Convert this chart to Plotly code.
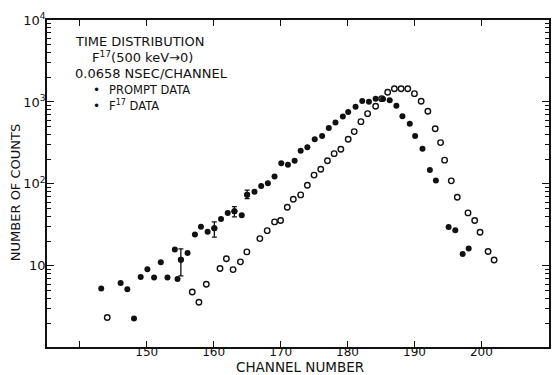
import plotly.graph_objects as go

# ---- data ----
prompt_channel = [143.2, 146.1, 147.1, 148.1, 149.1, 150.1, 151.1, 152.1, 153.1, 154.2,
                  154.6, 155.1, 156.1, 157.2, 158.1, 159.1, 160.1, 161.1, 162.1, 163.1,
                  164.2, 165.0, 166.1, 167.1, 168.1, 169.1, 170.1, 171.1, 172.1, 173.0,
                  174.0, 175.1, 176.2, 177.2, 178.2, 179.3, 180.1, 181.2, 182.2, 183.2,
                  184.2, 185.3, 186.3, 187.3, 188.2, 189.3, 190.1, 191.2, 192.3, 193.2,
                  195.1, 196.1, 197.2, 198.1]
prompt_counts = [5.3, 6.2, 5.2, 2.28, 7.3, 9.1, 7.2, 11.1, 7.2, 15.8,
                 6.9, 11.9, 14.4, 24.1, 30.1, 26, 28.8, 37.4, 44.3, 46.5,
                 41.5, 74, 80, 94, 102, 123, 179, 171, 192, 253,
                 280, 351, 385, 480, 560, 665, 755, 877, 1028, 1009,
                 1098, 1088, 1048, 902, 669, 543, 385, 269, 148, 110,
                 29.9, 27.2, 14.0, 16.3]

err_channel = [155.1, 160.1, 163.1, 165.0]
err_counts = [11.9, 28.8, 46.5, 74]
err_upper = [16.1, 34.4, 52.9, 84]
err_lower = [7.55, 22.4, 39.6, 66]

f17_channel = [144.1, 156.8, 157.8, 158.9, 160.95, 161.9, 162.9, 164.0, 164.96, 166.9,
               168.0, 169.1, 170.0, 171.0, 171.9, 173.0, 174.0, 175.0, 176.0, 177.0,
               178.0, 179.0, 180.1, 181.0, 182.0, 183.0, 184.2, 185.1, 186.0, 187.0,
               188.0, 189.0, 190.0, 191.0, 192.0, 193.1, 193.9, 194.5, 195.5, 196.4,
               198.0, 199.0, 199.8, 201.0, 201.9]
f17_counts = [2.34, 4.8, 3.6, 5.97, 9.3, 12.2, 9.0, 11.2, 14.8, 21.5,
              26.9, 34.4, 35.7, 51.9, 65, 73.4, 96.4, 128, 151, 192,
              234, 265, 351, 435, 575, 720, 885, 1097, 1312, 1452,
              1452, 1452, 1262, 1019, 770, 472, 319, 195, 109, 68.8,
              44.3, 35.7, 25.7, 15, 11.8]

x_tick_vals = [140, 150, 160, 170, 180, 190, 200]
x_tick_text = ["", "150", "160", "170", "180", "190", "200"]
y_tick_vals = [10, 100, 1000, 10000]
y_tick_text = ["10", "10<sup>2</sup>", "10<sup>3</sup>", "10<sup>4</sup>"]
y_minor_vals = [m * d for d in (1, 10, 100, 1000) for m in range(2, 10)]

INK = "#111111"
FONT = "DejaVu Sans"

fig = go.Figure()
fig.add_trace(go.Scatter(
    x=prompt_channel, y=prompt_counts, mode="markers",
    marker=dict(symbol="circle", size=6, color=INK, line=dict(width=0)),
    showlegend=False))
fig.add_trace(go.Scatter(
    x=err_channel, y=err_counts, mode="markers",
    marker=dict(symbol="circle", size=6, color=INK, line=dict(width=0)),
    error_y=dict(type="data", symmetric=False,
                 array=[u - v for u, v in zip(err_upper, err_counts)],
                 arrayminus=[v - l for v, l in zip(err_counts, err_lower)],
                 color=INK, thickness=1.3, width=2.5),
    showlegend=False))
fig.add_trace(go.Scatter(
    x=f17_channel, y=f17_counts, mode="markers",
    marker=dict(symbol="circle-open", size=5.5, color=INK, line=dict(width=1.4)),
    showlegend=False))

# plot area geometry (pixels)
L, R, T, B = 47, 2, 20, 28
W, H = 553, 375
pw, ph = W - L - R, H - T - B


def px(x):
    return (x - L) / pw


def py(y):
    return (H - B - y) / ph


txt = dict(family=FONT, size=13, color=INK)
ann = [
    dict(text="TIME DISTRIBUTION", x=px(140), y=py(42), xanchor="center", yanchor="middle", font=txt),
    dict(text="F<sup>17</sup>(500 keV→0)", x=px(143), y=py(57), xanchor="center", yanchor="middle", font=txt),
    dict(text="0.0658 NSEC/CHANNEL", x=px(151.5), y=py(73), xanchor="center", yanchor="middle", font=txt),
    dict(text="•", x=px(97), y=py(90), xanchor="center", yanchor="middle", font=dict(family=FONT, size=12, color=INK)),
    dict(text="PROMPT DATA", x=px(107), y=py(90), xanchor="left", yanchor="middle", font=dict(family=FONT, size=11.5, color=INK)),
    dict(text="•", x=px(97), y=py(106), xanchor="center", yanchor="middle", font=dict(family=FONT, size=12, color=INK)),
    dict(text="F<sup>17</sup> DATA", x=px(107), y=py(105), xanchor="left", yanchor="middle", font=dict(family=FONT, size=11.5, color=INK)),
    dict(text="NUMBER OF COUNTS", x=px(15), y=py(193), xanchor="center", yanchor="middle", textangle=-90, font=txt),
    dict(text="CHANNEL NUMBER", x=px(301), y=py(367.5), xanchor="center", yanchor="middle", font=dict(family=FONT, size=13.5, color=INK)),
]
for a in ann:
    a.update(xref="paper", yref="paper", showarrow=False)

fig.update_layout(
    width=W, height=H,
    margin=dict(l=L, r=R, t=T, b=B),
    paper_bgcolor="white", plot_bgcolor="white",
    font=dict(family=FONT, color=INK, size=13),
    annotations=ann,
    xaxis=dict(range=[135.1, 210.1], tickvals=x_tick_vals, ticktext=x_tick_text,
               ticks="inside", ticklen=6, tickwidth=1.3, tickcolor=INK,
               ticklabelstandoff=-7,
               showline=True, linecolor=INK, linewidth=1.5, mirror="ticks",
               showgrid=False, zeroline=False, tickfont=dict(size=12, color=INK)),
    yaxis=dict(type="log", range=[0.01, 4.0], tickvals=y_tick_vals, ticktext=y_tick_text,
               ticks="inside", ticklen=7, tickwidth=1.3, tickcolor=INK,
               ticklabelstandoff=-3,
               minor=dict(tickvals=y_minor_vals, ticks="inside", ticklen=4, tickwidth=1, tickcolor=INK),
               showline=True, linecolor=INK, linewidth=1.5, mirror="ticks",
               showgrid=False, zeroline=False, tickfont=dict(size=13, color=INK)),
)

fig.write_html("out.html", config={"displayModeBar": False},
               post_script="document.body.style.margin='0';document.body.style.padding='0';")
